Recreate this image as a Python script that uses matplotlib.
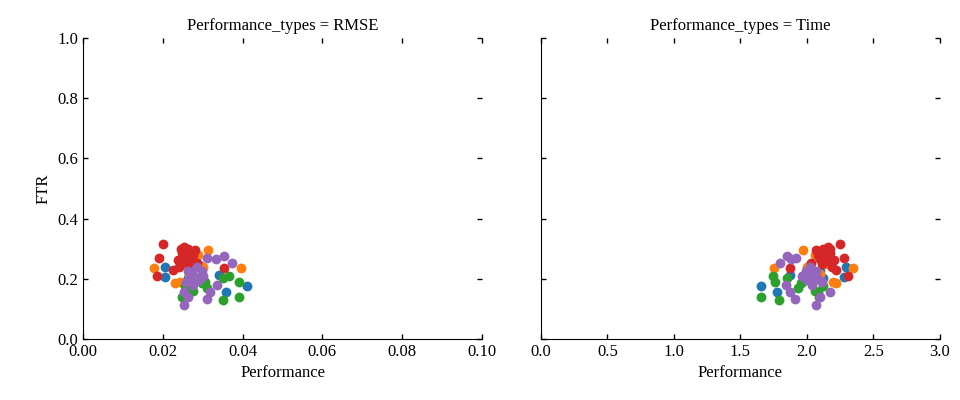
import matplotlib.pyplot as plt
import numpy as np

plt.rcParams['font.family'] = ['Liberation Serif', 'DejaVu Serif']
plt.rcParams['font.size'] = 12

# model groups, one colour each (tab10 order)
models = ["m0", "m1", "m2", "m3", "m4"]
colors = ["#1f77b4", "#ff7f0e", "#2ca02c", "#d62728", "#9467bd"]

# RMSE, Time and FTR per model (same points in both panels)
rmse_blue = [0.0206, 0.0206, 0.0412, 0.0358, 0.0342, 0.0290, 0.0265, 0.0300, 0.0262]
time_blue = [2.290, 2.280, 1.652, 1.777, 1.870, 2.020, 2.100, 1.990, 2.120]
ftr_blue = [0.240, 0.205, 0.176, 0.157, 0.213, 0.245, 0.225, 0.200, 0.203]

rmse_orange = [0.0178, 0.0396, 0.0312, 0.0231, 0.0243, 0.0288, 0.0300, 0.0265, 0.0255]
time_orange = [2.348, 1.754, 1.972, 2.220, 2.195, 2.060, 2.000, 2.100, 2.150]
ftr_orange = [0.235, 0.235, 0.296, 0.185, 0.190, 0.280, 0.240, 0.215, 0.250]

rmse_green = [0.0350, 0.0392, 0.0392, 0.0367, 0.0247, 0.0297, 0.0310, 0.0275,
              0.0350, 0.0255, 0.0306, 0.0262]
time_green = [1.792, 1.652, 1.759, 1.746, 2.090, 1.955, 1.930, 2.060,
              1.850, 2.120, 1.960, 2.080]
ftr_green = [0.130, 0.139, 0.188, 0.208, 0.140, 0.185, 0.170, 0.160,
             0.203, 0.175, 0.190, 0.157]

rmse_red = [0.0201, 0.0191, 0.0186, 0.0226, 0.0354, 0.0285, 0.0252, 0.0263,
            0.0271, 0.0247, 0.0256, 0.0250, 0.0275, 0.0262, 0.0240, 0.0280,
            0.0245, 0.0268, 0.0258, 0.0238]
time_red = [2.248, 2.278, 2.311, 2.220, 1.872, 2.030, 2.160, 2.120,
            2.100, 2.170, 2.140, 2.160, 2.080, 2.110, 2.190, 2.070,
            2.175, 2.095, 2.130, 2.200]
ftr_red = [0.316, 0.270, 0.209, 0.229, 0.235, 0.251, 0.306, 0.300,
           0.290, 0.285, 0.270, 0.260, 0.280, 0.250, 0.240, 0.295,
           0.300, 0.265, 0.285, 0.262]

rmse_purple = [0.0254, 0.0310, 0.0318, 0.0337, 0.0354, 0.0373, 0.0310, 0.0333,
               0.0264, 0.0285, 0.0272, 0.0297, 0.0252, 0.0264, 0.0280,
               0.0258, 0.0290, 0.0275, 0.0300, 0.0268]
time_purple = [2.067, 1.910, 1.870, 1.840, 1.847, 1.800, 1.920, 1.880,
               2.070, 2.020, 2.050, 1.990, 2.170, 2.100, 2.030,
               2.110, 2.000, 2.040, 1.960, 2.080]
ftr_purple = [0.113, 0.133, 0.155, 0.179, 0.276, 0.251, 0.270, 0.265,
              0.227, 0.238, 0.216, 0.227, 0.155, 0.141, 0.205,
              0.190, 0.195, 0.180, 0.210, 0.200]

rmse = [rmse_blue, rmse_orange, rmse_green, rmse_red, rmse_purple]
time = [time_blue, time_orange, time_green, time_red, time_purple]
ftr = [ftr_blue, ftr_orange, ftr_green, ftr_red, ftr_purple]

panels = ["RMSE", "Time"]
xlims = [(0, 0.10), (0, 3.0)]
xticks = [np.arange(0, 0.101, 0.02), np.arange(0, 3.01, 0.5)]
xfmt = ["{:.2f}", "{:.1f}"]

fig = plt.figure(figsize=(9.6, 4), dpi=100)
ax1 = fig.add_axes([0.0865, 0.1525, 0.4156, 0.7525])
ax2 = fig.add_axes([0.5635, 0.1525, 0.4156, 0.7525], sharey=ax1)

for k, ax in enumerate([ax1, ax2]):
    xs = rmse if k == 0 else time
    for i in range(len(models)):
        ax.scatter(xs[i], ftr[i], s=50, color=colors[i], linewidth=0, zorder=3)
    ax.set_xlim(*xlims[k])
    ax.set_ylim(0, 1.0)
    ax.set_xticks(xticks[k])
    ax.set_xticklabels([xfmt[k].format(v) for v in xticks[k]])
    ax.set_yticks(np.arange(0, 1.01, 0.2))
    ax.spines['top'].set_visible(False)
    ax.spines['right'].set_visible(False)
    ax.tick_params(direction='in', length=3.5, width=1, top=True, right=True, labelsize=12)
    ax.set_title("Performance_types = " + panels[k], fontsize=12, pad=6)
    ax.set_xlabel("Performance", fontsize=12)

ax1.set_yticklabels(["{:.1f}".format(v) for v in np.arange(0, 1.01, 0.2)])
ax1.set_ylabel("FTR", fontsize=12)
ax2.tick_params(labelleft=False)

fig.savefig("out.png", dpi=100)
